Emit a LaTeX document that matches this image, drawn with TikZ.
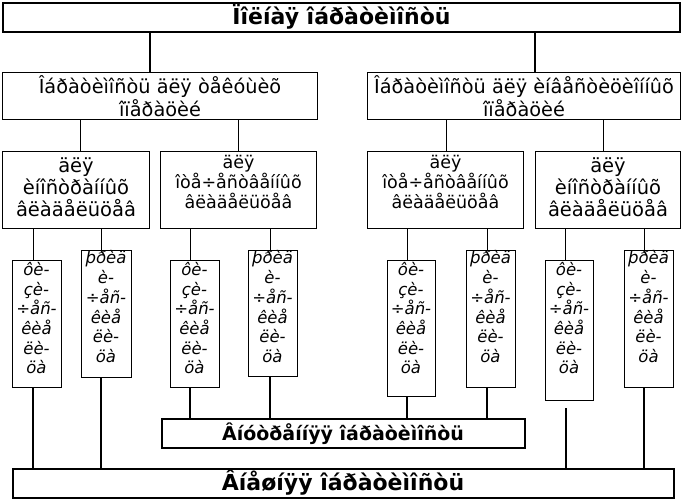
\documentclass[tikz,border=0pt]{standalone}
\usepackage{fontspec}
\setmainfont{DejaVu Sans}
\begin{document}
\begin{tikzpicture}[x=1pt,y=-1pt,
  thickbox/.style={draw, line width=2pt, inner sep=0pt, align=center},
  thinbox/.style={draw, line width=1pt, inner sep=0pt, align=center},
  txt/.style={inner sep=0pt, align=center},
  bigfont/.style={font=\fontsize{22}{24}\selectfont\bfseries},
  midfont/.style={font=\fontsize{19.3}{23}\selectfont},
  l3font/.style={font=\fontsize{19.5}{22}\selectfont},
  l3sfont/.style={font=\fontsize{17.5}{20}\selectfont},
  smfont/.style={font=\fontsize{16.5}{19.7}\selectfont\itshape},
  thinline/.style={line width=1pt},
  thickline/.style={line width=2pt}]
\useasboundingbox (0,0) rectangle (683,499);

% top
\node[thickbox, bigfont, minimum width=677pt, minimum height=29pt] (title) at (341.5,17) {Ïîëíàÿ îáðàòèìîñòü};

% level 2
\node[thinbox, midfont, minimum width=315pt, minimum height=47pt] (L2L) at (160,96) {Îáðàòèìîñòü äëÿ òåêóùèõ\\îïåðàöèé};
\node[thinbox, midfont, minimum width=313pt, minimum height=47pt] (L2R) at (524,96) {Îáðàòèìîñòü äëÿ èíâåñòèöèîííûõ\\îïåðàöèé};

% level 3
\node[thinbox, minimum width=147pt, minimum height=77pt] (L3A) at (76,190) {};
\node[thinbox, minimum width=156pt, minimum height=77pt] (L3B) at (238.5,190) {};
\node[thinbox, minimum width=156pt, minimum height=77pt] (L3C) at (445.5,190) {};
\node[thinbox, minimum width=145pt, minimum height=77pt] (L3D) at (608,190) {};
\node[txt, l3font, anchor=north] (tA) at ([yshift=-7pt]L3A.north) {äëÿ\\èíîñòðàííûõ\\âëàäåëüöåâ};
\node[txt, l3sfont, anchor=north] (tB) at ([yshift=-4pt]L3B.north) {äëÿ\\îòå÷åñòâåííûõ\\âëàäåëüöåâ};
\node[txt, l3sfont, anchor=north] (tC) at ([yshift=-4pt]L3C.north) {äëÿ\\îòå÷åñòâåííûõ\\âëàäåëüöåâ};
\node[txt, l3font, anchor=north] (tD) at ([yshift=-7pt]L3D.north) {äëÿ\\èíîñòðàííûõ\\âëàäåëüöåâ};

% small boxes
\node[thinbox, minimum width=49pt, minimum height=127pt] (s1) at (36.5,324) {};
\node[thinbox, minimum width=50pt, minimum height=127pt] (s2) at (106,314) {};
\node[thinbox, minimum width=49pt, minimum height=127pt] (s3) at (194.5,324) {};
\node[thinbox, minimum width=49pt, minimum height=126pt] (s4) at (272.5,313.5) {};
\node[thinbox, minimum width=48pt, minimum height=136pt] (s5) at (411,328.5) {};
\node[thinbox, minimum width=49pt, minimum height=137pt] (s6) at (490.5,319) {};
\node[thinbox, minimum width=48pt, minimum height=140pt] (s7) at (569,330.5) {};
\node[thinbox, minimum width=49pt, minimum height=137pt] (s8) at (648.5,319) {};
\foreach \b in {s1,s3,s5,s7}{
  \node[txt, smfont, anchor=north] (t\b) at ([yshift=-2pt]\b.north) {ôè-\\çè-\\÷åñ-\\êèå\\ëè-\\öà};
}
\foreach \b in {s2,s4,s6,s8}{
  \node[txt, smfont, anchor=north] (t\b) at ([yshift=-0.5pt]\b.north) {þðèä\\è-\\÷åñ-\\êèå\\ëè-\\öà};
}

% bottom boxes
\node[thickbox, font=\fontsize{19}{22}\selectfont\bfseries, minimum width=363pt, minimum height=29pt] (mid) at (343,433.5) {Âíóòðåííÿÿ îáðàòèìîñòü};
\node[thickbox, bigfont, minimum width=661pt, minimum height=29pt] (bot) at (343,483) {Âíåøíÿÿ îáðàòèìîñòü};

% connectors
\draw[thickline] (title.south -| 150,0) -- (L2L.north -| 150,0);
\draw[thickline] (title.south -| 535,0) -- (L2R.north -| 535,0);
\draw[thinline] (L2L.south -| 80,0) -- (L3A.north -| 80,0);
\draw[thinline] (L2L.south -| 238,0) -- (L3B.north -| 238,0);
\draw[thinline] (L2R.south -| 446,0) -- (L3C.north -| 446,0);
\draw[thinline] (L2R.south -| 603,0) -- (L3D.north -| 603,0);

\draw[thinline] (L3A.south -| 33,0) -- (s1.north -| 33,0);
\draw[thinline] (L3A.south -| 101,0) -- (s2.north -| 101,0);
\draw[thinline] (L3B.south -| 190,0) -- (s3.north -| 190,0);
\draw[thinline] (L3B.south -| 270,0) -- (s4.north -| 270,0);
\draw[thinline] (L3C.south -| 407,0) -- (s5.north -| 407,0);
\draw[thinline] (L3C.south -| 487,0) -- (s6.north -| 487,0);
\draw[thinline] (L3D.south -| 565,0) -- (s7.north -| 565,0);
\draw[thinline] (L3D.south -| 644,0) -- (s8.north -| 644,0);

\draw[thickline] (s1.south -| 33,0) -- (bot.north -| 33,0);
\draw[thickline] (s2.south -| 101,0) -- (bot.north -| 101,0);
\draw[thickline] (s3.south -| 190,0) -- (mid.north -| 190,0);
\draw[thickline] (s4.south -| 270,0) -- (mid.north -| 270,0);
\draw[thickline] (s5.south -| 407,0) -- (mid.north -| 407,0);
\draw[thickline] (s6.south -| 487,0) -- (mid.north -| 487,0);
\coordinate (g7) at (566,408);
\draw[thickline] (g7) -- (bot.north -| g7);
\draw[thickline] (s8.south -| 644,0) -- (bot.north -| 644,0);
\end{tikzpicture}
\end{document}
